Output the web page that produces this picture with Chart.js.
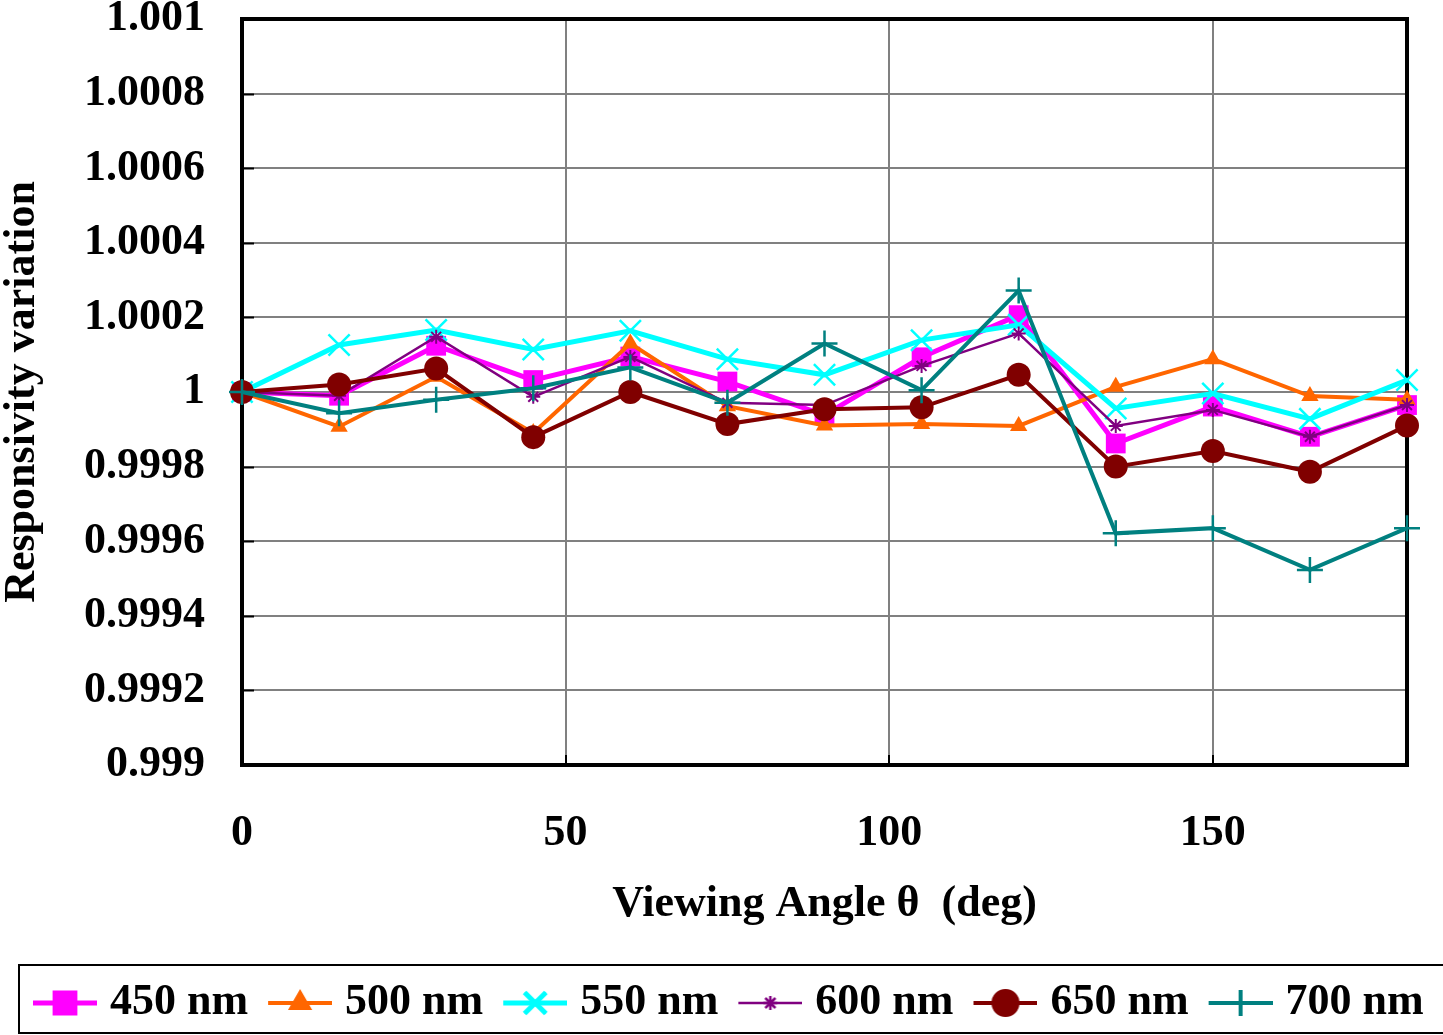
<!DOCTYPE html>
<html>
<head>
<meta charset="utf-8">
<title>Responsivity variation</title>
<script src="https://cdn.jsdelivr.net/npm/chart.js@4/dist/chart.umd.min.js"></script>
<style>
  html, body { margin: 0; padding: 0; background: #fff; }
  canvas { display: block; }
</style>
</head>
<body>
<canvas id="chartAngle" width="1443" height="1035"></canvas>
<script>
  "use strict";

  // viewing angle (deg)
  var angles = [0, 15, 30, 45, 60, 75, 90, 105, 120, 135, 150, 165, 180];

  var nm450 = [1.0000, 0.99999, 1.000124, 1.000032, 1.000095, 1.000028, 0.999938, 1.000093, 1.000206, 0.999862, 0.999961, 0.99988, 0.999965];
  var nm500 = [1.0000, 0.999907, 1.000041, 0.99989, 1.00013, 0.999962, 0.99991, 0.999914, 0.999909, 1.000014, 1.000088, 0.999989, 0.999979];
  var nm550 = [1.0000, 1.000126, 1.000166, 1.000114, 1.000164, 1.000088, 1.000046, 1.000139, 1.00018, 0.999956, 0.999996, 0.999928, 1.000032];
  var nm600 = [1.0000, 0.99999, 1.000148, 0.999987, 1.000094, 0.999971, 0.999965, 1.00007, 1.000157, 0.999909, 0.999952, 0.99988, 0.999965];
  var nm650 = [1.0000, 1.00002, 1.000063, 0.999879, 1.0000, 0.999914, 0.999954, 0.999959, 1.000046, 0.9998, 0.999842, 0.999786, 0.99991];
  var nm700 = [1.0000, 0.999943, 0.999979, 1.00001, 1.000066, 0.999971, 1.00013, 1.000005, 1.000272, 0.999621, 0.999635, 0.999523, 0.999635];

  var seriesNames = ["450 nm", "500 nm", "550 nm", "600 nm", "650 nm", "700 nm"];
  var seriesValues = [nm450, nm500, nm550, nm600, nm650, nm700];

  var xTicks = [0, 50, 100, 150];
  var yMin = 0.999, yMax = 1.001, yStep = 0.0002;

  // line colour, line width, marker, marker radius, marker stroke
  var styles = [
    { color: "#FF00FF", width: 5,   marker: "rect",     radius: 14, stroke: 0 },
    { color: "#FF6600", width: 4,   marker: "triangle", radius: 10, stroke: 0 },
    { color: "#00FFFF", width: 5,   marker: "crossRot", radius: 15, stroke: 2.5 },
    { color: "#800080", width: 2.5, marker: "star",     radius: 7,  stroke: 2 },
    { color: "#800000", width: 4,   marker: "circle",   radius: 12, stroke: 0 },
    { color: "#008080", width: 4,   marker: "cross",    radius: 13, stroke: 2.5 }
  ];

  Chart.defaults.font.family = "'Liberation Serif', 'Times New Roman', serif";
  Chart.defaults.font.weight = "bold";
  Chart.defaults.font.size = 44;
  Chart.defaults.color = "#000";

  // small line + marker swatch used as the legend point style
  function legendSwatch(s) {
    var c = document.createElement("canvas");
    c.width = 78;
    c.height = 40;
    var g = c.getContext("2d");
    var cy = 20, cx = 46;
    g.strokeStyle = s.color;
    g.fillStyle = s.color;
    g.lineWidth = s.width;
    g.beginPath();
    g.moveTo(14, cy);
    g.lineTo(78, cy);
    g.stroke();
    Chart.helpers.drawPoint(g, {
      pointStyle: s.marker,
      radius: s.radius,
      rotation: 0,
      borderWidth: s.stroke || 1
    }, cx, cy);
    if (s.stroke) { g.lineWidth = s.stroke; g.stroke(); }
    else { g.fill(); }
    return c;
  }

  var datasets = seriesNames.map(function(name, i) {
    var s = styles[i];
    return {
      label: name,
      data: angles.map(function(a, j) { return { x: a, y: seriesValues[i][j] }; }),
      borderColor: s.color,
      backgroundColor: s.color,
      borderWidth: s.width,
      pointStyle: s.marker,
      pointRadius: s.radius,
      pointBorderWidth: s.stroke,
      pointBorderColor: s.color,
      pointBackgroundColor: s.color,
      tension: 0,
      fill: false,
      clip: false,
      order: seriesNames.length - i
    };
  });

  var framePlugin = {
    id: "frame",
    beforeDatasetsDraw: function(chart) {
      var a = chart.chartArea, ctx = chart.ctx;
      var ys = chart.scales.y, xs = chart.scales.x;
      ctx.save();
      ctx.strokeStyle = "#000";
      ctx.lineWidth = 2;
      ys.ticks.forEach(function(t) {
        var py = Math.round(ys.getPixelForValue(t.value)) + 0.5;
        ctx.beginPath();
        ctx.moveTo(a.left, py);
        ctx.lineTo(a.left + 12, py);
        ctx.stroke();
      });
      xs.ticks.forEach(function(t) {
        var px = Math.round(xs.getPixelForValue(t.value));
        ctx.beginPath();
        ctx.moveTo(px, a.bottom);
        ctx.lineTo(px, a.bottom - 10);
        ctx.stroke();
      });
      ctx.lineWidth = 4;
      ctx.strokeRect(a.left, a.top, a.right - a.left, a.bottom - a.top);
      ctx.restore();
    },
    afterDraw: function(chart) {
      var lg = chart.legend, ctx = chart.ctx;
      ctx.save();
      ctx.strokeStyle = "#000";
      ctx.lineWidth = 2;
      ctx.strokeRect(19, lg.top - 1, chart.width + 20, lg.height - 1);
      ctx.restore();
    }
  };

  var ctx = document.getElementById("chartAngle").getContext("2d");

  var myChart = new Chart(ctx, {
    type: "line",
    data: { datasets: datasets },
    plugins: [framePlugin],
    options: {
      responsive: false,
      animation: false,
      layout: { padding: { left: 13, right: 0, top: 19, bottom: 0 } },
      plugins: {
        tooltip: { enabled: false },
        legend: {
          position: "bottom",
          align: "start",
          labels: {
            usePointStyle: true,
            pointStyleWidth: 60,
            padding: 15,
            font: { size: 44, weight: "bold" },
            color: "#000",
            generateLabels: function(chart) {
              return seriesNames.map(function(name, i) {
                return {
                  text: name,
                  pointStyle: legendSwatch(styles[i]),
                  fillStyle: styles[i].color,
                  strokeStyle: styles[i].color,
                  lineWidth: 0,
                  hidden: false,
                  datasetIndex: i
                };
              });
            }
          }
        }
      },
      scales: {
        x: {
          type: "linear",
          min: 0,
          max: 180,
          afterBuildTicks: function(scale) {
            scale.ticks = xTicks.map(function(v) { return { value: v }; });
          },
          afterFit: function(scale) {
            scale.height = 201;
            scale.paddingLeft = 0;
            scale.paddingRight = 0;
          },
          grid: { color: "#808080", lineWidth: 2, drawTicks: false },
          border: { display: false },
          ticks: { padding: 42, maxRotation: 0, font: { size: 44, weight: "bold" } },
          title: {
            display: true,
            text: "Viewing Angle \u03b8  (deg)",
            font: { size: 44, weight: "bold" },
            padding: { top: 0, bottom: 35 }
          }
        },
        y: {
          min: yMin,
          max: yMax,
          afterFit: function(scale) {
            scale.width = 229;
            scale.paddingTop = 0;
            scale.paddingBottom = 0;
          },
          grid: { color: "#808080", lineWidth: 2, drawTicks: false },
          border: { display: false },
          ticks: {
            stepSize: yStep,
            padding: 37,
            font: { size: 44, weight: "bold" },
            callback: function(v) { return String(Number(v.toFixed(4))); }
          },
          title: {
            display: true,
            text: "Responsivity variation",
            font: { size: 44, weight: "bold" },
            padding: { top: -17, bottom: 0 }
          }
        },
        y2: {
          position: "right",
          min: yMin,
          max: yMax,
          afterFit: function(scale) { scale.width = 36; },
          grid: { display: false },
          border: { display: false },
          ticks: { display: false }
        }
      }
    }
  });
</script>
</body>
</html>
